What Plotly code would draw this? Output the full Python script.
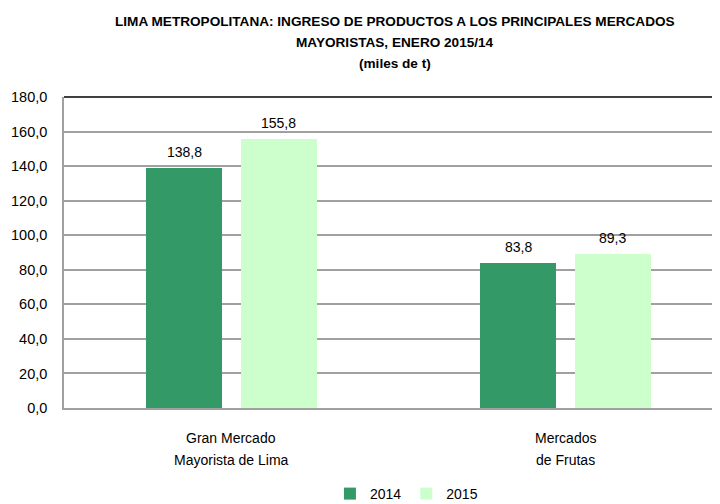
import plotly.graph_objects as go

categories = ["Gran Mercado\nMayorista de Lima", "Mercados\nde Frutas"]
series_names = ["2014", "2015"]
values_2014 = [138.8, 83.8]
values_2015 = [155.8, 89.3]
colors = ["#339966", "#CCFFCC"]
y_ticks = [0, 20, 40, 60, 80, 100, 120, 140, 160, 180]
title_lines = ["LIMA METROPOLITANA: INGRESO DE PRODUCTOS A LOS PRINCIPALES MERCADOS",
               "MAYORISTAS, ENERO 2015/14",
               "(miles de t)"]

FONT = "Liberation Sans"
PAGE_OFF = 8  # default body margin of the html page
BAR_W = 0.227

def fmt(v):
    return f"{v:.1f}".replace(".", ",")

fig = go.Figure()
xs = list(range(len(categories)))
annotations = []
for name, vals, col, off in [(series_names[0], values_2014, colors[0], -0.254),
                             (series_names[1], values_2015, colors[1], 0.030)]:
    fig.add_trace(go.Bar(
        x=xs, y=vals, name=name, marker=dict(color=col, line=dict(width=0)),
        width=BAR_W, offset=off, hoverinfo="x+y",
    ))
    for xi, v in zip(xs, vals):
        annotations.append(dict(
            text=fmt(v), xref="x", yref="y", x=xi + off + BAR_W / 2, y=v,
            xanchor="center", yanchor="middle", yshift=16, showarrow=False,
            font=dict(family=FONT, size=14, color="#000000"),
        ))

for i, line in enumerate(title_lines):
    annotations.append(dict(
        text=f"<b>{line}</b>", xref="paper", yref="paper",
        x=(395 - 64) / 656, y=1 + (97 - (21 + 21.5 * i)) / 311,
        xanchor="center", yanchor="middle", showarrow=False,
        font=dict(family=FONT, size=13.6, color="#000000"),
    ))
for xi, cat in zip(xs, categories):
    for j, line in enumerate(cat.split("\n")):
        annotations.append(dict(
            text=line, xref="x", yref="paper", x=xi, y=-(438 + 22 * j - 408) / 311,
            xanchor="center", yanchor="middle", showarrow=False,
            font=dict(family=FONT, size=14, color="#000000"),
        ))

fig.update_layout(
    width=720 - PAGE_OFF, height=504 - PAGE_OFF,
    margin=dict(l=64 - PAGE_OFF, r=0, t=97 - PAGE_OFF, b=96, autoexpand=False),
    paper_bgcolor="white", plot_bgcolor="white",
    barmode="overlay",
    separators=",.",
    font=dict(family=FONT, size=14, color="#000000"),
    xaxis=dict(
        range=[-0.5, 1.464], tickvals=xs, showticklabels=False,
        showgrid=False, showline=True, linecolor="#A0A0A0", linewidth=1.5,
        ticks="", zeroline=False, automargin=False,
    ),
    yaxis=dict(
        range=[0, 180], tickvals=y_ticks, tickformat=".1f",
        showgrid=True, gridcolor="#A0A0A0", gridwidth=1.5,
        showline=True, linecolor="#A0A0A0", linewidth=1.5,
        ticks="", ticklabelstandoff=12,
        tickfont=dict(family=FONT, size=14.5, color="#000000"),
        zeroline=False, automargin=False,
    ),
    legend=dict(orientation="h", x=0.522, xanchor="center", y=-(494 - 408) / 311, yanchor="middle",
                font=dict(family=FONT, size=14, color="#000000"),
                itemwidth=30, traceorder="normal"),
    shapes=[dict(type="line", xref="paper", yref="paper", x0=0, x1=1, y0=1, y1=1,
                 line=dict(color="#000000", width=1.5))],
    annotations=annotations,
    bargap=0,
)

fig.write_html("out.html")
